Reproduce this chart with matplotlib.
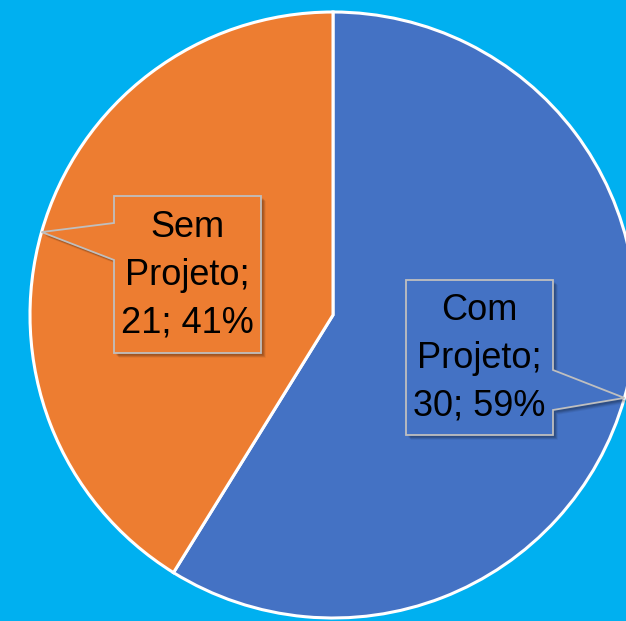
import matplotlib
matplotlib.use("Agg")
import matplotlib.pyplot as plt
import numpy as np
from matplotlib.patches import Polygon

labels = ["Com\nProjeto;", "Sem\nProjeto;"]
values = [30, 21]
colors = ["#4472C4", "#ED7D31"]

W, H = 626, 621
fig = plt.figure(figsize=(W / 100, H / 100), dpi=100)
fig.patch.set_facecolor("#00B0F0")
ax = fig.add_axes([0, 0, 1, 1])
ax.set_xlim(0, W)
ax.set_ylim(0, H)
ax.set_aspect("equal")
ax.axis("off")

cx, cy, R = 333, H - 315, 303
ax.pie(values, colors=colors, startangle=90, counterclock=False, center=(cx, cy), radius=R,
       wedgeprops=dict(edgecolor="white", linewidth=2.2), frame=True)
ax.set_xlim(0, W)
ax.set_ylim(0, H)
ax.axis("off")

total = sum(values)
# boxes: (left, top, right, bottom) in pixel coordinates (top-left origin), side of callout
boxes = [((406, 280, 553, 435), "right", (370, 410)),
         ((114, 196, 261, 353), "left", (223, 260))]

start = 90.0
for i, v in enumerate(values):
    frac = v / total
    mid = start - 360 * frac / 2
    start -= 360 * frac
    tx = cx + R * np.cos(np.radians(mid))
    ty = cy + R * np.sin(np.radians(mid))
    (l, t, r, b), side, (n1, n2) = boxes[i]
    T, B = H - t, H - b
    N1, N2 = H - n1, H - n2
    if side == "right":
        pts = [(l, T), (r, T), (r, N1), (tx, ty), (r, N2), (r, B), (l, B)]
    else:
        pts = [(l, T), (r, T), (r, B), (l, B), (l, N2), (tx, ty), (l, N1)]
    # shadow
    for k, a in zip([6, 5, 4, 3], [0.06, 0.08, 0.10, 0.12]):
        sh = Polygon([(x + k * 0.8, y - k * 0.8) for x, y in pts], closed=True,
                     facecolor="black", edgecolor="none", alpha=a, zorder=3)
        ax.add_patch(sh)
    poly = Polygon(pts, closed=True, facecolor=colors[i], edgecolor="#BFBFBF",
                   linewidth=1.3, zorder=4)
    ax.add_patch(poly)
    pct = round(100 * v / total)
    txt = f"{labels[i]}\n{v}; {pct}%"
    ax.text((l + r) / 2, (T + B) / 2 - 1, txt, ha="center", va="center", fontsize=26,
            family=["Liberation Sans Narrow", "Liberation Sans", "DejaVu Sans"],
            linespacing=1.48, color="black", zorder=5)

fig.savefig("out.png", dpi=100, facecolor=fig.get_facecolor())
